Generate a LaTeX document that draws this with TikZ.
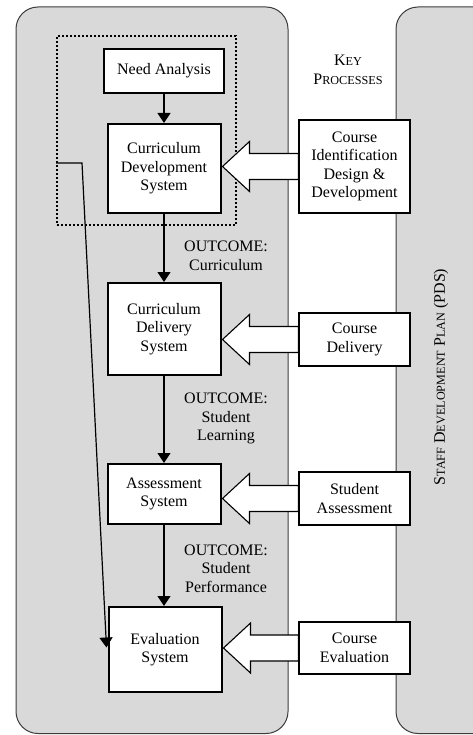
\documentclass[tikz,border=0pt]{standalone}
\usepackage{fontspec}
\setmainfont{Liberation Serif}
\usetikzlibrary{arrows.meta,calc}

\definecolor{panel}{HTML}{D9D9D9}
\definecolor{panelline}{HTML}{3C3C3C}

% fake small caps: capital letter at full size, the rest smaller
\newcommand\sclow[1]{{\fontsize{12.2}{14}\selectfont #1}}

\begin{document}
\begin{tikzpicture}[x=1pt,y=-1pt,
  every node/.style={font=\fontsize{16}{18.5}\selectfont, inner sep=0pt, align=center},
  panelbox/.style={fill=panel, draw=panelline, line width=1pt, rounded corners=22pt},
  sysbox/.style={draw=black, fill=white, line width=2pt, minimum width=113pt},
  procbox/.style={draw=black, fill=white, line width=1.3pt, minimum width=111pt},
  flow/.style={line width=1.2pt, -{Triangle[width=13pt,length=10pt]}},
  hollow/.style={draw=black, fill=white, line width=1.1pt, line join=miter},
  groupbox/.style={draw=black, line width=2pt, dash pattern=on 2pt off 2pt, minimum width=179pt, minimum height=189pt}
]
\useasboundingbox (0,0) rectangle (473,735);

% background panels
\path[panelbox] (16,7) rectangle (288,733.5);
\path[panelbox] (396,7) rectangle (520,733.5);

% dotted grouping around the development stage
\node[groupbox] (grp) at (146.5,130.5) {};

% system boxes (left column)
\node[sysbox, minimum width=120pt, minimum height=44pt] (na) at (164,71) {Need Analysis};
\node[sysbox, minimum height=89pt] (cds) at (164,168.5) {Curriculum\\Development\\System};
\node[sysbox, minimum height=92pt] (cdl) at (164,329) {Curriculum\\Delivery\\System};
\node[sysbox, minimum height=60pt] (asm) at (164,494) {Assessment\\System};
\node[sysbox, minimum height=85pt] (evl) at (165,649.5) {Evaluation\\System};

% key process boxes (right column)
\node[procbox, minimum height=93pt] (cid) at (354.5,166.5) {Course\\Identification\\Design \&\\Development};
\node[procbox, minimum height=53pt] (cdv) at (354.5,339.5) {Course\\Delivery};
\node[procbox, minimum height=53pt] (sas) at (354.5,498.5) {Student\\Assessment};
\node[procbox, minimum height=52pt] (cev) at (354.5,648) {Course\\Evaluation};

% block arrows from each key process to its system
\newcommand\blockarrow[2]{%
  \path let \p1=(#1.west), \p2=(#2.east) in
    [hollow] (\x2+1pt,\y1) -- (\x2+28pt,\y1+25pt) -- (\x2+28pt,\y1+13pt) -- (\x1,\y1+13pt)
      -- (\x1,\y1-13pt) -- (\x2+28pt,\y1-13pt) -- (\x2+28pt,\y1-25pt) -- cycle;}
\blockarrow{cid}{cds}
\blockarrow{cdv}{cdl}
\blockarrow{sas}{asm}
\blockarrow{cev}{evl}

% redraw the process boxes over the arrow ends
\foreach \n in {cid,cdv,sas,cev} \draw[black, line width=1.3pt] (\n.north west) rectangle (\n.south east);

% main flow
\draw[flow] (na) -- (cds);
\draw[flow] (cds) -- (cdl);
\draw[flow] (cdl) -- (asm);
\draw[flow] (asm) -- (evl.north -| asm.south);

% feedback from the development stage to evaluation
\coordinate (fbk) at (82,163);
\draw[flow] (grp.west |- fbk) -- (fbk) -- ($(evl.west)+(-1,-2)$);

% outcome labels
\node (o1) at (226,256) {OUTCOME:\\Curriculum};
\node (o2) at (226,418.5) {OUTCOME:\\Student\\Learning};
\node (o3) at (226,568.5) {OUTCOME:\\Student\\Performance};

% column headings
\node (kp) at (348,70) {K\sclow{EY}\\P\sclow{ROCESSES}};
\node[rotate=90] (sdp) at (441,377) {S\sclow{TAFF} D\sclow{EVELOPMENT} P\sclow{LAN} (PDS)};
\end{tikzpicture}
\end{document}
